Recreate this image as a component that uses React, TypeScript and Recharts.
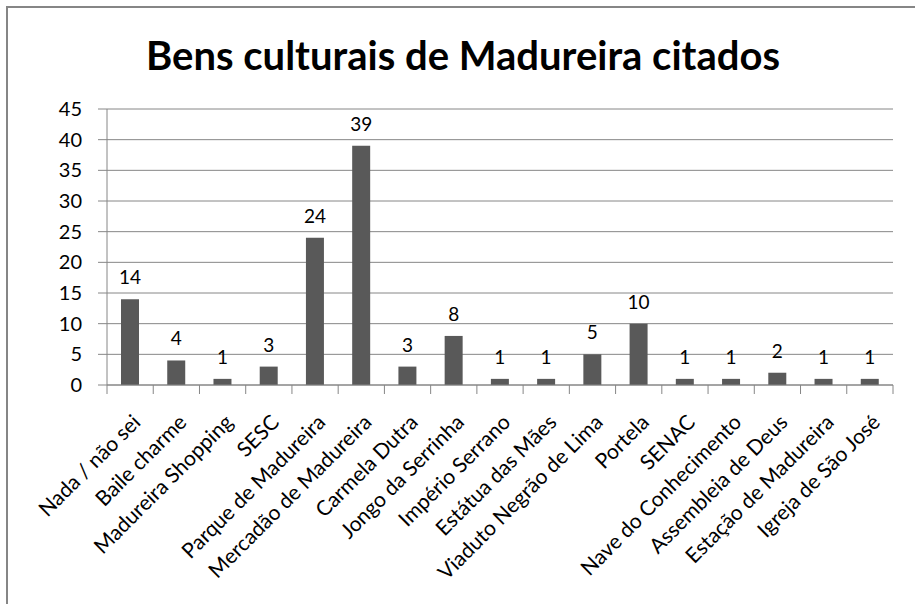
import React from "react";
import { BarChart, Bar, XAxis, YAxis, CartesianGrid, LabelList } from "recharts";

const categories = [
  "Nada / não sei",
  "Baile charme",
  "Madureira Shopping",
  "SESC",
  "Parque de Madureira",
  "Mercadão de Madureira",
  "Carmela Dutra",
  "Jongo da Serrinha",
  "Império Serrano",
  "Estátua das Mães",
  "Viaduto Negrão de Lima",
  "Portela",
  "SENAC",
  "Nave do Conhecimento",
  "Assembleia de Deus",
  "Estação de Madureira",
  "Igreja de São José",
];
const values = [14, 4, 1, 3, 24, 39, 3, 8, 1, 1, 5, 10, 1, 1, 2, 1, 1];
const yTicks = [0, 5, 10, 15, 20, 25, 30, 35, 40, 45];
const title = "Bens culturais de Madureira citados";

const data = categories.map((name, i) => ({ name, value: values[i] }));

const FONT = "Lato, 'Open Sans', sans-serif";
const GRID = "#868686";

function CategoryTick(props: any) {
  const { x, y, payload, index } = props;
  const half = payload && typeof payload.offset === "number" && payload.offset > 0 ? payload.offset : 23.1;
  const capOff = 10.6;
  const tx = x + 1 + capOff;
  const ty = y + 28 + capOff;
  return (
    <g>
      <line x1={x - half} y1={y} x2={x - half} y2={y + 9} stroke={GRID} strokeWidth={1} />
      {index === categories.length - 1 && (
        <line x1={x + half} y1={y} x2={x + half} y2={y + 9} stroke={GRID} strokeWidth={1} />
      )}
      <text
        x={tx}
        y={ty}
        textAnchor="end"
        fontFamily={FONT}
        fontSize={21}
        fill="#000"
        transform={`rotate(-45, ${tx}, ${ty})`}
      >
        {payload.value}
      </text>
    </g>
  );
}

export default function App() {
  return (
    <div style={{ position: "absolute", left: 0, top: 0, width: 915, height: 604, background: "#fff", overflow: "hidden" }}>
      <div
        style={{
          position: "absolute",
          left: 6,
          top: 6,
          width: 940,
          height: 640,
          borderLeft: `2px solid ${GRID}`,
          borderTop: `2px solid ${GRID}`,
        }}
      />
      <svg width={915} height={604} style={{ position: "absolute", left: 0, top: 0 }}>
        <text x={463} y={70} textAnchor="middle" fontFamily={FONT} fontWeight={700} fontSize={40} fill="#000">
          {title}
        </text>
      </svg>
      <div style={{ position: "absolute", left: 0, top: 0 }}>
        <BarChart
          width={915}
          height={604}
          data={data}
          margin={{ top: 109, right: 22, bottom: 0, left: 0 }}
          barSize={18}
        >
          <CartesianGrid vertical={false} stroke={GRID} strokeWidth={1} />
          <XAxis
            dataKey="name"
            interval={0}
            height={219}
            tickLine={false}
            tickSize={0}
            tickMargin={0}
            axisLine={{ stroke: GRID, strokeWidth: 1 }}
            tick={<CategoryTick />}
          />
          <YAxis
            width={107}
            domain={[0, 45]}
            ticks={yTicks}
            interval={0}
            tickSize={9}
            tickMargin={16}
            tickLine={{ stroke: GRID }}
            axisLine={{ stroke: GRID }}
            tick={{ fontFamily: FONT, fontSize: 20, fill: "#000" }}
          />
          <Bar dataKey="value" fill="#595959" isAnimationActive={false}>
            <LabelList dataKey="value" position="top" offset={15} fontFamily={FONT} fontSize={19} fill="#000" />
          </Bar>
        </BarChart>
      </div>
    </div>
  );
}
